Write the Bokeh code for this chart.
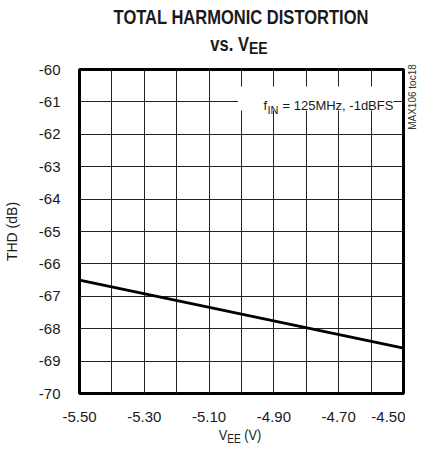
from bokeh.plotting import figure
from bokeh.models import FixedTicker, Label, BoxAnnotation, Div
from bokeh.layouts import column, row
from bokeh.embed import file_html
from bokeh.resources import INLINE

# ---- data ----
vee = [-5.50, -4.50]
thd = [-66.5, -68.6]
x_ticks = [-5.50, -5.30, -5.10, -4.90, -4.70, -4.50]
x_tick_labels = ["-5.50", "-5.30", "-5.10", "-4.90", "-4.70", "-4.50"]
x_grid = [-5.50, -5.40, -5.30, -5.20, -5.10, -5.00, -4.90, -4.80, -4.70, -4.60, -4.50]
y_ticks = [-70, -69, -68, -67, -66, -65, -64, -63, -62, -61, -60]
title_1 = "TOTAL HARMONIC DISTORTION"
title_2 = "vs. V"
title_sub = "EE"
x_label = "V"
x_label_sub = "EE"
x_label_unit = " (V)"
y_label = "THD (dB)"
note_main = "f"
note_sub = "IN"
note_rest = "= 125MHz, -1dBFS"
side_code = "MAX106 toc18"

FONT = "'Liberation Sans', Arial, sans-serif"
INK = "#1a1a1a"

p = figure(width=405, height=368, x_range=(-5.5, -4.5), y_range=(-70, -60),
           output_backend="svg", toolbar_location=None,
           min_border_left=78, min_border_right=2, min_border_top=11, min_border_bottom=33)
p.background_fill_color = "white"
p.border_fill_color = "white"
p.outline_line_color = "black"
p.outline_line_width = 3
p.outline_line_alpha = 1

p.xaxis.ticker = FixedTicker(ticks=x_ticks)
p.xaxis.major_label_overrides = {t: l for t, l in zip(x_ticks, x_tick_labels)}
p.yaxis.ticker = FixedTicker(ticks=y_ticks)
p.yaxis.major_label_overrides = {t: str(t) for t in y_ticks}
for ax in (p.xaxis, p.yaxis):
    ax.axis_line_color = None
    ax.major_tick_line_color = None
    ax.minor_tick_line_color = None
    ax.major_tick_out = 0
    ax.major_tick_in = 0
    ax.major_label_text_font = FONT
    ax.major_label_text_font_size = "15px"
    ax.major_label_text_color = INK
p.xaxis.major_label_standoff = 18
p.yaxis.major_label_standoff = 19
p.yaxis.axis_label = y_label
p.yaxis.axis_label_text_font = FONT
p.yaxis.axis_label_text_font_size = "14px"
p.yaxis.axis_label_text_font_style = "normal"
p.yaxis.axis_label_text_color = INK
p.yaxis.axis_label_standoff = 16

p.xgrid.ticker = FixedTicker(ticks=x_grid)
p.ygrid.ticker = FixedTicker(ticks=y_ticks)
for g in (p.xgrid, p.ygrid):
    g.grid_line_color = "#222222"
    g.grid_line_width = 1
    g.grid_line_alpha = 1

p.line(vee, thd, line_width=3, line_color="black")

# white box behind the annotation (breaks the grid)
p.add_layout(BoxAnnotation(left=-5.011, right=-4.531, bottom=-61.265, top=-60.525,
                           fill_color="white", fill_alpha=1, line_alpha=0))

def lab(x, y, text, size):
    p.add_layout(Label(x=x, y=y, x_units="screen", y_units="screen", text=text,
                       text_font=FONT, text_font_size=size,
                       text_align="left", text_baseline="alphabetic",
                       text_color=INK))

lab(184, 288, note_main, "13px")
lab(188, 284, note_sub, "11px")
lab(203, 288, note_rest, "13px")

title_html = f"""
<div style="position:relative;width:405px;height:58px;font-family:{FONT};font-weight:bold;color:{INK};">
  <span style="position:absolute;left:241px;top:7px;font-size:20px;line-height:20px;white-space:nowrap;
               transform:translateX(-50%) scaleX(0.826);">{title_1}</span>
  <span style="position:absolute;left:239px;top:34px;font-size:20px;line-height:20px;white-space:nowrap;
               transform:translateX(-50%) scaleX(0.826);">{title_2}<span style="font-size:17px;position:relative;top:2.5px;">{title_sub}</span></span>
</div>
"""
title_div = Div(text=title_html, width=405, height=58, margin=0, styles={"overflow": "visible"})

xlabel_html = f"""
<div style="position:relative;width:405px;height:26px;font-family:{FONT};color:{INK};">
  <span style="position:absolute;left:240px;top:1px;font-size:15px;line-height:15px;white-space:nowrap;
               transform:translateX(-50%) scaleX(0.85);">{x_label}<span style="font-size:12px;position:relative;top:2.5px;">{x_label_sub}</span>{x_label_unit}</span>
</div>
"""
xlabel_div = Div(text=xlabel_html, width=405, height=26, margin=0, styles={"overflow": "visible"})

side_html = f"""
<div style="position:relative;width:17px;height:368px;font-family:{FONT};color:#333333;">
  <span style="position:absolute;left:8px;top:38.5px;font-size:10px;line-height:10px;white-space:nowrap;
               transform:translate(-50%,-50%) rotate(-90deg);">{side_code}</span>
</div>
"""
side_div = Div(text=side_html, width=17, height=368, margin=0, styles={"overflow": "visible"})

layout = column(title_div, row(p, side_div, spacing=0), xlabel_div, spacing=0)

open("out.html", "w").write(file_html(layout, INLINE))
